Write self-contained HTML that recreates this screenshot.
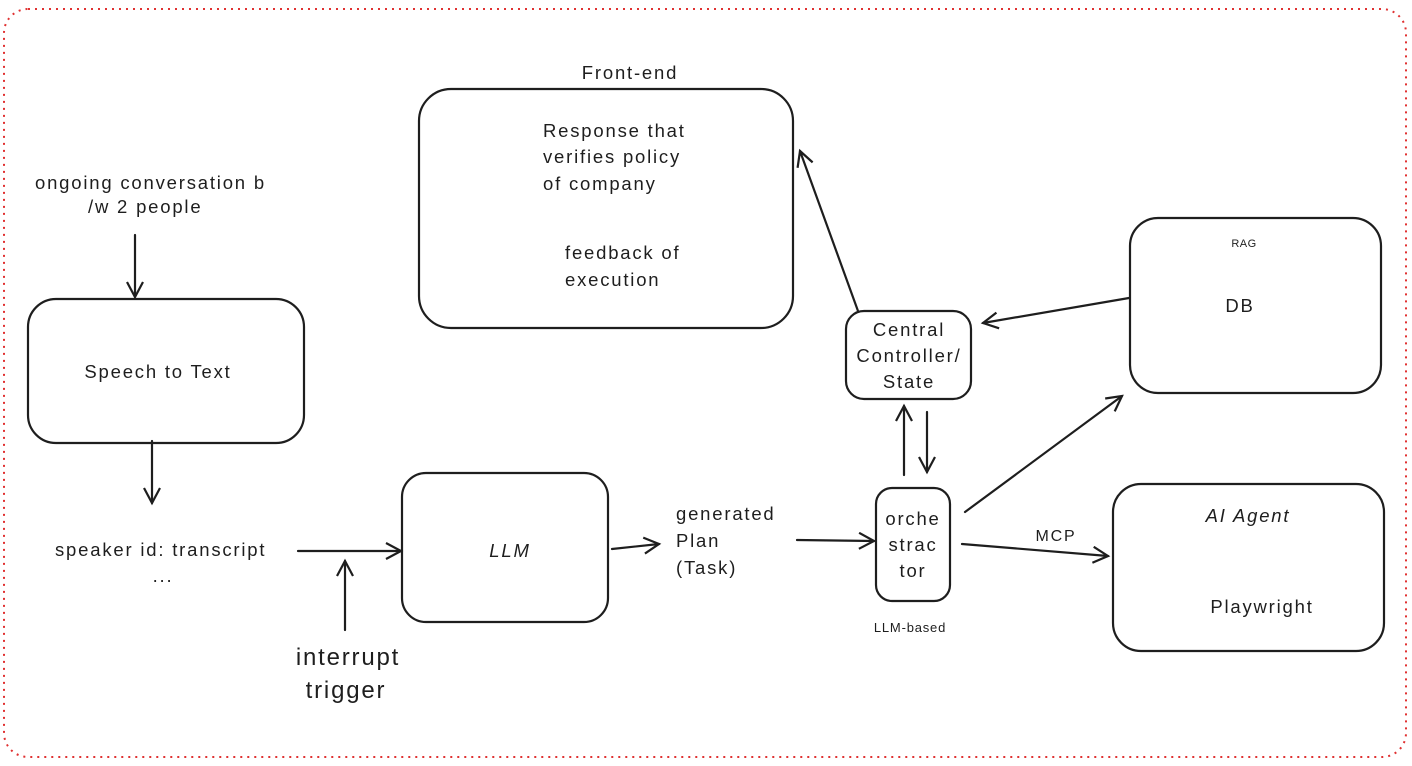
<!DOCTYPE html>
<html><head><meta charset="utf-8"><style>
html,body{margin:0;padding:0;background:#fff;width:1412px;height:766px;overflow:hidden}
text{font-family:"Liberation Sans",sans-serif;fill:#1e1e1e;font-size:18.5px;letter-spacing:1.8px}
.b{fill:none;stroke:#1e1e1e;stroke-width:2.2}
.a{fill:none;stroke:#1e1e1e;stroke-width:2.2;stroke-linecap:round}
</style></head><body>
<svg width="1412" height="766" xmlns="http://www.w3.org/2000/svg">
<defs><marker id="m" markerWidth="22" markerHeight="22" refX="16" refY="9" orient="auto" markerUnits="userSpaceOnUse"><path d="M1,1 L16,9 L1,17" fill="none" stroke="#1e1e1e" stroke-width="2.2"/></marker></defs>
<rect x="4" y="9" width="1402" height="748" rx="24" fill="none" stroke="#e03131" stroke-width="2" stroke-dasharray="2 5"/>
<text x="630" y="79" text-anchor="middle">Front-end</text>
<rect class="b" x="419" y="89" width="374" height="239" rx="32"/>
<text x="543" y="137">Response that</text>
<text x="543" y="163">verifies policy</text>
<text x="543" y="190">of company</text>
<text x="565" y="259">feedback of</text>
<text x="565" y="286">execution</text>
<text x="35" y="189">ongoing conversation b</text>
<text x="88" y="213">/w 2 people</text>
<line class="a" x1="135" y1="235" x2="135" y2="297" marker-end="url(#m)"/>
<rect class="b" x="28" y="299" width="276" height="144" rx="28"/>
<text x="158" y="378" text-anchor="middle">Speech to Text</text>
<line class="a" x1="152" y1="441" x2="152" y2="503" marker-end="url(#m)"/>
<text x="55" y="556">speaker id: transcript</text>
<text x="163" y="582" text-anchor="middle">...</text>
<line class="a" x1="298" y1="551" x2="401" y2="551" marker-end="url(#m)" stroke-width="2.6"/>
<line class="a" x1="345" y1="630" x2="345" y2="561" marker-end="url(#m)"/>
<text x="348" y="665" text-anchor="middle" style="font-size:24px">interrupt</text>
<text x="346" y="698" text-anchor="middle" style="font-size:24px">trigger</text>
<rect class="b" x="402" y="473" width="206" height="149" rx="24"/>
<text x="510" y="557" text-anchor="middle" font-style="italic">LLM</text>
<line class="a" x1="612" y1="549" x2="659" y2="544" marker-end="url(#m)"/>
<text x="676" y="520">generated</text>
<text x="676" y="547">Plan</text>
<text x="676" y="574">(Task)</text>
<line class="a" x1="797" y1="540" x2="874" y2="541" marker-end="url(#m)"/>
<rect class="b" x="876" y="488" width="74" height="113" rx="16"/>
<text x="913" y="525" text-anchor="middle">orche</text>
<text x="913" y="551" text-anchor="middle">strac</text>
<text x="913" y="577" text-anchor="middle">tor</text>
<text x="910" y="632" text-anchor="middle" style="font-size:13px;letter-spacing:0.8px">LLM-based</text>
<line class="a" x1="904" y1="475" x2="904" y2="406" marker-end="url(#m)"/>
<line class="a" x1="927" y1="412" x2="927" y2="472" marker-end="url(#m)"/>
<rect class="b" x="846" y="311" width="125" height="88" rx="18"/>
<text x="909" y="336" text-anchor="middle">Central</text>
<text x="909" y="362" text-anchor="middle">Controller/</text>
<text x="909" y="388" text-anchor="middle">State</text>
<line class="a" x1="858" y1="311" x2="800" y2="151" marker-end="url(#m)"/>
<line class="a" x1="1129" y1="298" x2="983" y2="323" marker-end="url(#m)"/>
<rect class="b" x="1130" y="218" width="251" height="175" rx="28"/>
<text x="1244" y="247" text-anchor="middle" style="font-size:11px;letter-spacing:0.5px">RAG</text>
<text x="1240" y="312" text-anchor="middle">DB</text>
<line class="a" x1="965" y1="512" x2="1122" y2="396" marker-end="url(#m)"/>
<line class="a" x1="962" y1="544" x2="1108" y2="556" marker-end="url(#m)" stroke-width="3.2"/>
<text x="1056" y="541" text-anchor="middle" style="font-size:16px">MCP</text>
<rect class="b" x="1113" y="484" width="271" height="167" rx="28"/>
<text x="1248" y="522" text-anchor="middle" font-style="italic">AI Agent</text>
<text x="1262" y="613" text-anchor="middle">Playwright</text>
</svg>
</body></html>
